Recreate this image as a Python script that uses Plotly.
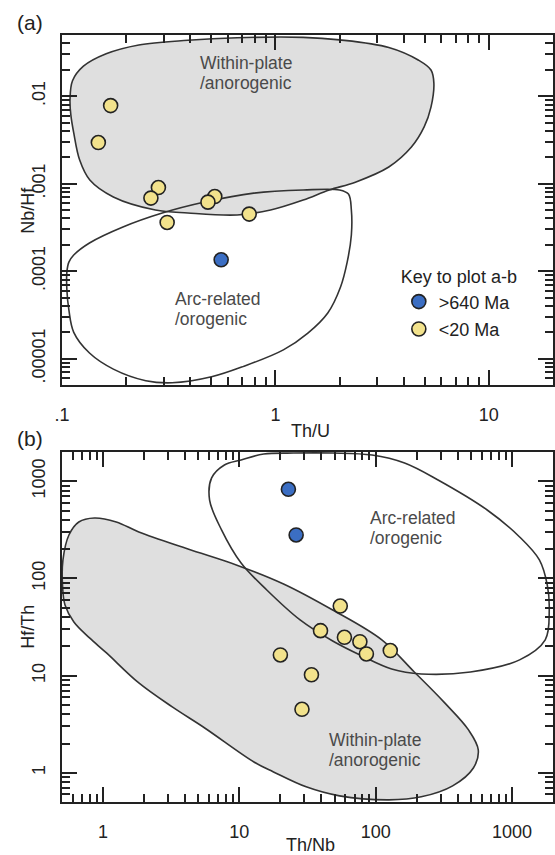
import plotly.graph_objects as go

# ---------------- Panel (a): Th/U vs Nb/Hf ----------------
a_old_thu = [0.557]
a_old_nbhf = [0.000135]
a_young_thu = [0.169, 0.148, 0.283, 0.261, 0.520, 0.483, 0.754, 0.311]
a_young_nbhf = [0.0078, 0.00295, 0.000903, 0.000684, 0.000713, 0.000615, 0.000449, 0.00036]

# Within-plate / anorogenic field (a)
a_wp_thu = [0.109, 0.112, 0.126, 0.161, 0.229, 0.389, 0.662, 1.35, 2.0, 3.40, 4.67, 5.36, 5.53,
            5.36, 4.98, 4.34, 3.40, 2.37, 1.79, 1.35, 0.949, 0.662, 0.389, 0.274, 0.174, 0.135,
            0.121, 0.1135, 0.110, 0.109]
a_wp_nbhf = [0.00904, 0.0150, 0.0220, 0.0305, 0.0385, 0.0435, 0.0465, 0.0470, 0.0440, 0.0360,
             0.0259, 0.0199, 0.0141, 0.0075, 0.00445, 0.00262, 0.00155, 0.00104, 0.000847,
             0.00065, 0.0005, 0.000439, 0.000462, 0.0005, 0.000705, 0.0011, 0.00186, 0.0038,
             0.0061, 0.00904]
# Arc-related / orogenic field (a)
a_arc_thu = [0.1054, 0.1077, 0.1135, 0.1345, 0.193, 0.295, 0.466, 0.792, 1.35, 2.0, 2.20, 2.27,
             2.27, 2.17, 2.02, 1.76, 1.42, 1.09, 0.713, 0.502, 0.328, 0.247, 0.174, 0.1345,
             0.1135, 0.1077, 0.1054, 0.1054]
a_arc_nbhf = [9.8e-5, 1.27e-4, 1.53e-4, 2.10e-4, 3.2e-4, 4.62e-4, 6.17e-4, 7.8e-4, 8.47e-4,
              8.47e-4, 7.6e-4, 5.0e-4, 2.59e-4, 1.27e-4, 6.6e-5, 3.33e-5, 1.96e-5, 1.26e-5,
              8.2e-6, 6.2e-6, 5.3e-6, 5.6e-6, 7.6e-6, 1.16e-5, 2.0e-5, 3.6e-5, 6.1e-5, 9.8e-5]

# ---------------- Panel (b): Th/Nb vs Hf/Th ----------------
b_old_thnb = [22.9, 26.1]
b_old_hfth = [826, 280]
b_young_thnb = [55, 39.4, 59, 76.6, 85.5, 128, 20, 33.8, 28.8]
b_young_hfth = [52, 29, 24.8, 22.3, 16.7, 18.1, 16.3, 10.2, 4.5]

# Arc-related / orogenic field (b)
b_arc_thnb = [10.3, 15.1, 24.9, 48.4, 94, 163, 287, 658, 1138, 1589, 1815, 1877, 1754, 1138,
              496, 216, 131, 79.6, 48.4, 27.9, 15.9, 10.3, 7.4, 6.05, 6.26, 7.77, 10.3]
b_arc_hfth = [1656, 1906, 1950, 1950, 1862, 1541, 1030, 506, 267, 155, 85.7, 47.3, 23.3, 14.5,
              10.9, 10.4, 11.7, 15.9, 22.7, 37.4, 76, 144, 316, 641, 1081, 1469, 1656]
# Within-plate / anorogenic field (b)
b_wp_thnb = [0.508, 0.562, 0.664, 0.865, 1.25, 1.83, 4.2, 9.6, 21.1, 48.4, 111, 192, 316, 480,
             566, 521, 367, 216, 125, 54.3, 30.9, 17.8, 12.8, 5.57, 3.22, 1.83, 1.06, 0.796,
             0.611, 0.526, 0.505, 0.508]
b_wp_hfth = [155, 280, 381, 419, 381, 301, 201, 137, 87.7, 47.3, 23.3, 10.9, 5.36, 2.76, 1.72,
             1.12, 0.733, 0.565, 0.526, 0.578, 0.716, 1.02, 1.29, 2.89, 4.76, 8.4, 17.1, 24.4,
             35.6, 53.3, 81.7, 155]

# ticks
a_x_major = [0.1, 1, 10]
a_x_labels = [".1", "1", "10"]
a_y_major = [1e-5, 1e-4, 1e-3, 1e-2]
a_y_labels = [".00001", ".0001", ".001", ".01"]
b_major = [1, 10, 100, 1000]
b_labels = ["1", "10", "100", "1000"]

def minors(lo, hi):
    vals = []
    k = -8
    while 10 ** k < hi * 10:
        for m in range(2, 10):
            v = m * 10 ** k
            if lo * 1.0001 < v < hi * 0.999:
                vals.append(v)
        k += 1
    return vals

W, H = 555, 855
FONT = "Liberation Sans, Arial, sans-serif"
INK = "#222222"
YEL = "#f2e28c"
BLUE = "#3b6ec3"
GRAY = "#dfdfdf"

def px(x, y):
    return x / W, 1 - y / H

fig = go.Figure()

def field(x, y, xa, ya, fill):
    fig.add_trace(go.Scatter(
        x=x, y=y, xaxis=xa, yaxis=ya, mode="lines",
        line=dict(color="#333333", width=1.6, shape="spline", smoothing=1.0),
        fill="toself" if fill else "none", fillcolor=GRAY,
        showlegend=False, hoverinfo="skip"))

def pts(x, y, xa, ya, color, name, legend):
    fig.add_trace(go.Scatter(
        x=x, y=y, xaxis=xa, yaxis=ya, mode="markers", name=name,
        marker=dict(size=14, color=color, line=dict(color=INK, width=1.6)),
        showlegend=legend, legendgroup=name))

field(a_wp_thu, a_wp_nbhf, "x", "y", True)
field(a_arc_thu, a_arc_nbhf, "x", "y", False)
pts(a_old_thu, a_old_nbhf, "x", "y", BLUE, ">640 Ma", True)
pts(a_young_thu, a_young_nbhf, "x", "y", YEL, "<20 Ma", True)

field(b_wp_thnb, b_wp_hfth, "x2", "y2", True)
field(b_arc_thnb, b_arc_hfth, "x2", "y2", False)
pts(b_old_thnb, b_old_hfth, "x2", "y2", BLUE, ">640 Ma", False)
pts(b_young_thnb, b_young_hfth, "x2", "y2", YEL, "<20 Ma", False)

def axis(rng, lo, hi, major, labels, domain, anchor, angle=0, standoff=0):
    return dict(
        type="log", range=rng, domain=domain, anchor=anchor,
        showline=True, linecolor=INK, linewidth=2, mirror="ticks",
        ticks="inside", ticklen=15, tickwidth=1.5, tickcolor=INK,
        tickmode="array", tickvals=major, ticktext=labels, tickangle=angle,
        ticklabelstandoff=standoff,
        minor=dict(tickmode="array", tickvals=minors(lo, hi), ticks="inside", ticklen=8,
                   tickwidth=1.5, tickcolor=INK, showgrid=False),
        showgrid=False, zeroline=False,
        tickfont=dict(family=FONT, size=18, color=INK), fixedrange=True)

xdom = [55 / W, 1.0]
fig.update_layout(
    width=W, height=H, margin=dict(l=0, r=0, t=0, b=0),
    paper_bgcolor="white", plot_bgcolor="white",
    xaxis=axis([-1, 1.30103], 0.1, 20, a_x_major, a_x_labels, xdom, "y", 0, 12),
    yaxis=axis([-5.30103, -1.30103], 5e-6, 0.05, a_y_major, a_y_labels,
               [1 - 385 / H, 1 - 35 / H], "x", -90, 8),
    xaxis2=axis([-0.30103, 3.30103], 0.5, 2000, b_major, b_labels, xdom, "y2", 0, 12),
    yaxis2=axis([-0.30103, 3.30103], 0.5, 2000, b_major, b_labels,
                [1 - 802 / H, 1 - 452 / H], "x2", -90, 8),
    legend=dict(x=398 / W, y=1 - 260 / H, xanchor="left", yanchor="top",
                bgcolor="rgba(0,0,0,0)", borderwidth=0,
                title=dict(text="Key to plot a-b", font=dict(family=FONT, size=18, color=INK)),
                font=dict(family=FONT, size=18, color=INK), tracegroupgap=1),
    showlegend=True,
)

def ann(text, x, y, size=18, color=INK, xanchor="center", angle=0):
    ax, ay = px(x, y)
    fig.add_annotation(text=text, x=ax, y=ay, xref="paper", yref="paper",
                       showarrow=False, xanchor=xanchor, yanchor="middle", textangle=angle,
                       font=dict(family=FONT, size=size, color=color))

# panel labels
ann("(a)", 7, 22, 21, INK, "left")
ann("(b)", 7, 438, 21, INK, "left")
# axis titles
ann("Th/U", 308, 431, 18)
ann("Th/Nb", 308, 845, 18)
ann("Nb/Hf", 20, 210, 18, angle=-90)
ann("Hf/Th", 20, 627, 18, angle=-90)
# field labels
FC = "#4a4a4a"
ann("Within-plate", 193, 63, 17.5, FC, "left")
ann("/anorogenic", 193, 83, 17.5, FC, "left")
ann("Arc-related", 168, 299, 17.5, FC, "left")
ann("/orogenic", 168, 319, 17.5, FC, "left")
ann("Arc-related", 367, 518, 17.5, FC, "left")
ann("/orogenic", 367, 538, 17.5, FC, "left")
ann("Within-plate", 325, 740, 17.5, FC, "left")
ann("/anorogenic", 325, 760, 17.5, FC, "left")

fig.write_html("out.html")
